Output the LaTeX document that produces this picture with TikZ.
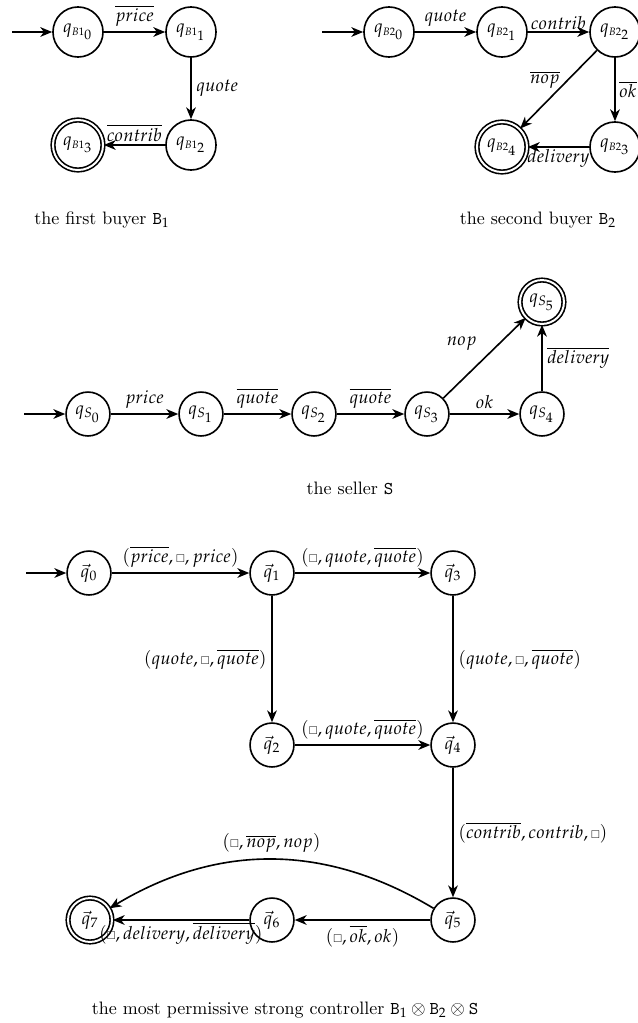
\documentclass[tikz,border=0pt]{standalone}
\usepackage{mathpazo}
\usepackage{amssymb}
\usetikzlibrary{arrows.meta}

% small "no action" box used in the product labels
\newcommand{\nb}{{\scriptscriptstyle\square}}

\tikzset{
  x=0.5556pt, y=-0.5556pt,
  every path/.style={line width=0.9pt},
  >={Stealth[length=6.6pt,width=5.4pt,inset=2pt]},
  bstate/.style={circle, draw, line width=0.9pt, inner sep=0pt, minimum size=27.8pt},
  sstate/.style={circle, draw, line width=0.9pt, inner sep=0pt, minimum size=24.4pt},
  acc/.style={double, double distance=1.1pt},
  lbl/.style={inner sep=2.5pt},
  captxt/.style={inner sep=0pt}
}

\begin{document}
\begin{tikzpicture}
\useasboundingbox (0,0) rectangle (638,1023);

% ---------------- first buyer ----------------
\coordinate (ib1) at (12,32);
\node[bstate] (b10) at (78,32)  {$q_{{\scriptscriptstyle B1}_{\scriptstyle 0}}$};
\node[bstate] (b11) at (191,32) {$q_{{\scriptscriptstyle B1}_{\scriptstyle 1}}$};
\node[bstate] (b12) at (191,145) {$q_{{\scriptscriptstyle B1}_{\scriptstyle 2}}$};
\node[bstate,acc] (b13) at (78,145) {$q_{{\scriptscriptstyle B1}_{\scriptstyle 3}}$};
\draw[->] (ib1) -- (b10);
\draw[->] (b10) -- node[lbl,above] {$\overline{price}$} (b11);
\draw[->] (b11) -- node[lbl,right] {$quote$} (b12);
\draw[->] (b12) -- node[lbl,above,inner sep=1.5pt] {$\overline{contrib}$} (b13);
\node[captxt] (cap1) at (102,220) {the first buyer $\mathtt{B}_1$};

% ---------------- second buyer ----------------
\coordinate (ib2) at (322,32);
\node[bstate] (b20) at (389,32)  {$q_{{\scriptscriptstyle B2}_{\scriptstyle 0}}$};
\node[bstate] (b21) at (502,32)  {$q_{{\scriptscriptstyle B2}_{\scriptstyle 1}}$};
\node[bstate] (b22) at (615,32)  {$q_{{\scriptscriptstyle B2}_{\scriptstyle 2}}$};
\node[bstate] (b23) at (615,147) {$q_{{\scriptscriptstyle B2}_{\scriptstyle 3}}$};
\node[bstate,acc] (b24) at (502,147) {$q_{{\scriptscriptstyle B2}_{\scriptstyle 4}}$};
\draw[->] (ib2) -- (b20);
\draw[->] (b20) -- node[lbl,above] {$quote$} (b21);
\draw[->] (b21) -- node[lbl,above,inner sep=1pt] {$contrib$} (b22);
\draw[->] (b22) -- node[lbl,pos=0.38,left=1.5pt] {$\overline{nop}$} (b24);
\draw[->] (b22) -- node[lbl,right,inner sep=2pt] {$\overline{ok}$} (b23);
\draw[->] (b23) -- node[lbl,below,inner sep=1pt] {$delivery$} (b24);
\node[captxt] (cap2) at (538,220) {the second buyer $\mathtt{B}_2$};

% ---------------- seller ----------------
\coordinate (is) at (24,414);
\node[sstate] (s0) at (88,414)  {$q_{S_{\scriptstyle 0}}$};
\node[sstate] (s1) at (201,414) {$q_{S_{\scriptstyle 1}}$};
\node[sstate] (s2) at (314,414) {$q_{S_{\scriptstyle 2}}$};
\node[sstate] (s3) at (427,414) {$q_{S_{\scriptstyle 3}}$};
\node[sstate] (s4) at (542,414) {$q_{S_{\scriptstyle 4}}$};
\node[sstate,acc] (s5) at (542,302) {$q_{S_{\scriptstyle 5}}$};
\draw[->] (is) -- (s0);
\draw[->] (s0) -- node[lbl,above] {$price$} (s1);
\draw[->] (s1) -- node[lbl,above] {$\overline{quote}$} (s2);
\draw[->] (s2) -- node[lbl,above] {$\overline{quote}$} (s3);
\draw[->] (s3) -- node[lbl,above] {$ok$} (s4);
\draw[->] (s3) -- node[lbl,above left,inner sep=4pt] {$nop$} (s5);
\draw[->] (s4) -- node[lbl,right] {$\overline{delivery}$} (s5);
\node[captxt] (cap3) at (350,488) {the seller $\mathtt{S}$};

% ---------------- controller ----------------
\coordinate (ic) at (26,573);
\node[sstate] (c0) at (89,573)  {$\vec{q}_0$};
\node[sstate] (c1) at (272,573) {$\vec{q}_1$};
\node[sstate] (c3) at (453,573) {$\vec{q}_3$};
\node[sstate] (c2) at (272,745) {$\vec{q}_2$};
\node[sstate] (c4) at (453,745) {$\vec{q}_4$};
\node[sstate] (c5) at (453,920) {$\vec{q}_5$};
\node[sstate] (c6) at (272,920) {$\vec{q}_6$};
\node[sstate,acc] (c7) at (90,920) {$\vec{q}_7$};
\draw[->] (ic) -- (c0);
\draw[->] (c0) -- node[lbl,above] {$(\overline{price},\nb,price)$} (c1);
\draw[->] (c1) -- node[lbl,above] {$(\nb,quote,\overline{quote})$} (c3);
\draw[->] (c1) -- node[lbl,left] {$(quote,\nb,\overline{quote})$} (c2);
\draw[->] (c3) -- node[lbl,right] {$(quote,\nb,\overline{quote})$} (c4);
\draw[->] (c2) -- node[lbl,above] {$(\nb,quote,\overline{quote})$} (c4);
\draw[->] (c4) -- node[lbl,right] {$(\overline{contrib},contrib,\nb)$} (c5);
\draw[->] (c5) to[bend right=31] node[lbl,above=1pt] {$(\nb,\overline{nop},nop)$} (c7);
\draw[->] (c5) -- node[lbl,below] {$(\nb,\overline{ok},ok)$} (c6);
\draw[->] (c6) -- node[lbl,below,inner sep=1pt] {$(\nb,delivery,\overline{delivery})$} (c7);
\node[captxt] (cap4) at (285,1010) {the most permissive strong controller $\mathtt{B}_1\otimes\mathtt{B}_2\otimes\mathtt{S}$};
\end{tikzpicture}
\end{document}
